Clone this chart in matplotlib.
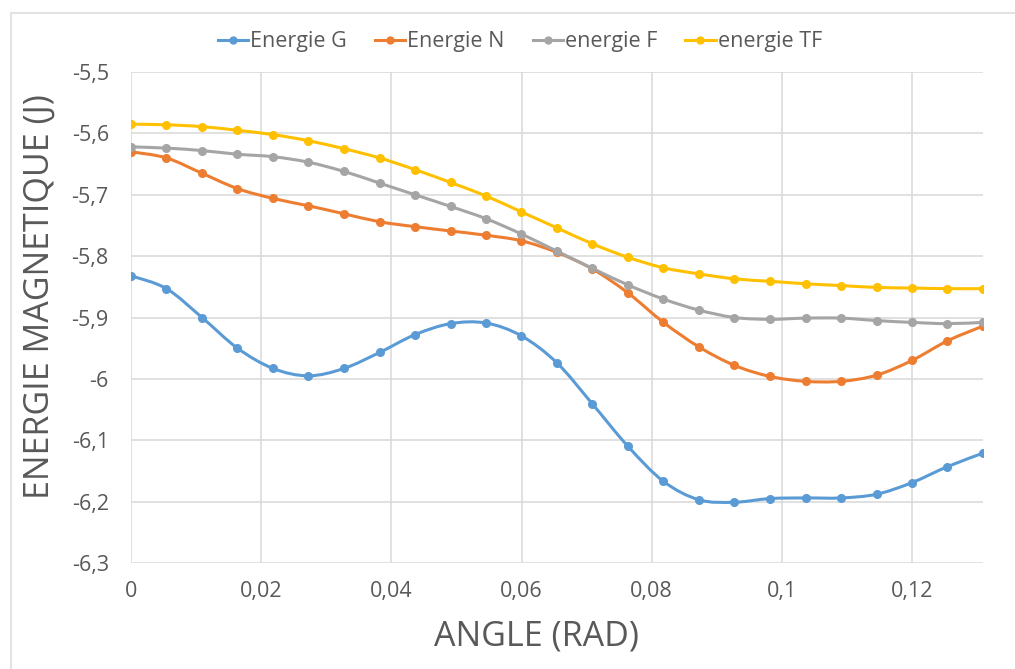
import numpy as np
import matplotlib
matplotlib.use("Agg")
import matplotlib.pyplot as plt
from matplotlib.path import Path
from matplotlib.patches import PathPatch
from matplotlib.lines import Line2D
from matplotlib.ticker import FuncFormatter

# angle (rad), 25 steps from 0 to 7.5 degrees
angle = [0.0, 0.00545, 0.01091, 0.01636, 0.02182, 0.02727, 0.03272, 0.03818,
         0.04363, 0.04909, 0.05454, 0.05999, 0.06545, 0.07090, 0.07636, 0.08181,
         0.08727, 0.09272, 0.09817, 0.10363, 0.10908, 0.11454, 0.11999, 0.12544,
         0.13090]

energie_g = [-5.832, -5.853, -5.900, -5.950, -5.983, -5.995, -5.983, -5.957,
             -5.928, -5.910, -5.909, -5.930, -5.974, -6.041, -6.110, -6.167,
             -6.197, -6.201, -6.195, -6.194, -6.194, -6.188, -6.169, -6.143,
             -6.121]
energie_n = [-5.630, -5.640, -5.665, -5.690, -5.706, -5.718, -5.731, -5.744,
             -5.752, -5.759, -5.766, -5.775, -5.794, -5.821, -5.860, -5.908,
             -5.948, -5.978, -5.996, -6.004, -6.004, -5.994, -5.970, -5.938,
             -5.914]
energie_f = [-5.622, -5.624, -5.628, -5.634, -5.638, -5.647, -5.662, -5.681,
             -5.700, -5.719, -5.739, -5.764, -5.792, -5.820, -5.847, -5.870,
             -5.888, -5.900, -5.903, -5.901, -5.901, -5.905, -5.908, -5.910,
             -5.908]
energie_tf = [-5.585, -5.586, -5.589, -5.595, -5.602, -5.612, -5.625, -5.640,
              -5.659, -5.680, -5.702, -5.728, -5.754, -5.780, -5.802, -5.819,
              -5.829, -5.837, -5.841, -5.845, -5.848, -5.851, -5.852, -5.853,
              -5.853]

series = [("Energie G", energie_g, "#5B9BD5"),
          ("Energie N", energie_n, "#ED7D31"),
          ("energie F", energie_f, "#A5A5A5"),
          ("energie TF", energie_tf, "#FFC000")]

FONT = ["Open Sans", "DejaVu Sans"]
TEXT = "#595959"
GRID = "#D9D9D9"


def smooth_path(x, y, tension=1 / 6):
    # Excel-style smoothed line: cubic Bezier through every point
    pts = np.column_stack([np.asarray(x), np.asarray(y)])
    verts = [pts[0]]
    codes = [Path.MOVETO]
    n = len(pts)
    for i in range(n - 1):
        p0 = pts[max(i - 1, 0)]
        p1 = pts[i]
        p2 = pts[i + 1]
        p3 = pts[min(i + 2, n - 1)]
        verts += [p1 + (p2 - p0) * tension, p2 - (p3 - p1) * tension, p2]
        codes += [Path.CURVE4] * 3
    return Path(verts, codes)


fig = plt.figure(figsize=(10.15, 6.69), dpi=100)
ax = fig.add_axes([131 / 1015, 1 - 563 / 669, (983 - 131) / 1015, (563 - 72) / 669])

for name, vals, color in series:
    ax.add_patch(PathPatch(smooth_path(angle, vals), facecolor="none",
                           edgecolor=color, lw=2.2, capstyle="round", zorder=3))
    ax.plot(angle, vals, "o", color=color, ms=5.5, zorder=4)

ax.set_xlim(0, angle[-1])
ax.set_ylim(-6.3, -5.5)
ax.set_xticks(np.arange(0, 0.13, 0.02))
ax.set_yticks(np.arange(-6.3, -5.45, 0.1))

fmt = FuncFormatter(lambda v, p: f"{round(v, 2):g}".replace(".", ","))
ax.xaxis.set_major_formatter(fmt)
ax.yaxis.set_major_formatter(fmt)

ax.grid(True, color=GRID, lw=1.1)
ax.set_axisbelow(True)
for s in ax.spines.values():
    s.set_visible(False)
ax.tick_params(length=0, labelsize=15.5, labelcolor=TEXT)
ax.tick_params(axis="y", pad=16)
ax.tick_params(axis="x", pad=13)
for lbl in ax.get_xticklabels() + ax.get_yticklabels():
    lbl.set_family(FONT)

ax.set_xlabel("ANGLE (RAD)", fontsize=24.5, color=TEXT, family=FONT)
ax.set_ylabel("ENERGIE MAGNETIQUE (J)", fontsize=24.5, color=TEXT, family=FONT)
ax.xaxis.set_label_coords((537 - 131) / 852, -0.115)
ax.yaxis.set_label_coords(-0.087, 1 - (297 - 72) / 491)

handles = [Line2D([], [], color=c, lw=2.2, marker="o", ms=5) for _, _, c in series]
fig.legend(handles, [s[0] for s in series], loc="center", bbox_to_anchor=(520 / 1015, 1 - 42 / 669),
           ncol=4, frameon=False, handlelength=1.4, handletextpad=0.1, columnspacing=1.3,
           prop={"family": FONT, "size": 15.5}, labelcolor=TEXT)

# outer chart border
border = "#E3E3E3"
fig.add_artist(Line2D([11 / 1015, 1], [1 - 13 / 669] * 2, color=border, lw=1.5))
fig.add_artist(Line2D([11 / 1015] * 2, [0, 1 - 13 / 669], color=border, lw=1.5))

fig.savefig("out.png", dpi=100)
